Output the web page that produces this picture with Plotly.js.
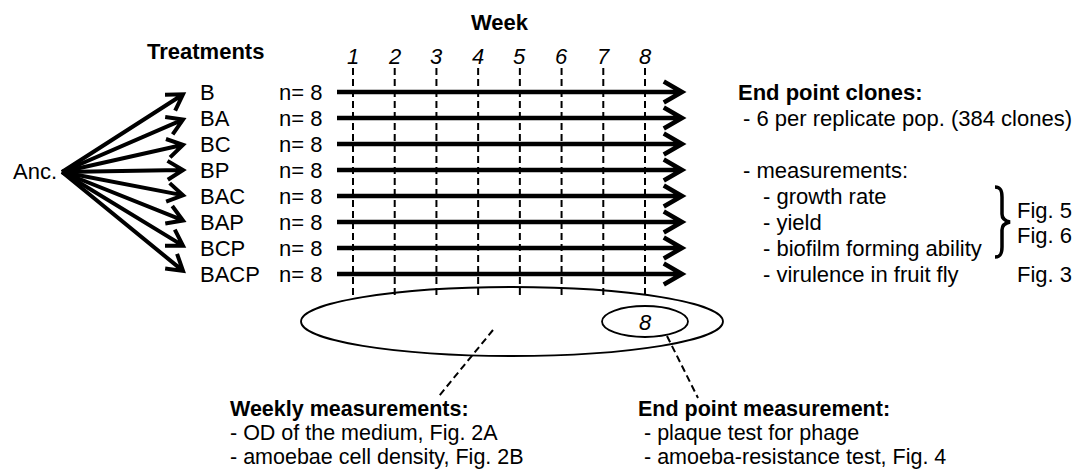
<!DOCTYPE html>
<html><head><meta charset="utf-8">
<script src="https://cdn.plot.ly/plotly-3.0.1.min.js"></script>
<style>html,body{margin:0;padding:0;background:#fff}#chart{width:1080px;height:475px}</style>
</head><body><div id="chart"></div>
<script>
// ---------- data ----------
const treatments = ['B', 'BA', 'BC', 'BP', 'BAC', 'BAP', 'BCP', 'BACP'];
const replicates = [8, 8, 8, 8, 8, 8, 8, 8];
const weeks = [1, 2, 3, 4, 5, 6, 7, 8];
const endPointWeek = 8;
const ancestorLabel = 'Anc.';
const treatmentsTitle = 'Treatments';
const weekTitle = 'Week';
const clonesTitle = 'End point clones:';
const clonesLine = '- 6 per replicate pop. (384 clones)';
const measurementsHeader = '- measurements:';
const cloneMeasurements = ['- growth rate', '- yield', '- biofilm forming ability', '- virulence in fruit fly'];
const figRefs = ['Fig. 5', 'Fig. 6', 'Fig. 3'];
const weeklyTitle = 'Weekly measurements:';
const weeklyItems = ['- OD of the medium, Fig. 2A', '- amoebae cell density, Fig. 2B'];
const endTitle = 'End point measurement:';
const endItems = ['- plaque test for phage', '- amoeba-resistance test, Fig. 4'];

// ---------- layout helpers ----------
const FONT = 'Liberation Sans, Arial, Helvetica, sans-serif';
const FS = 22;
const FS_BOTTOM = 21.5;
const ROW0 = 92, ROWSTEP = 26;
const rowY = i => ROW0 + ROWSTEP * i;
const ORIGIN = [62, 172];
const W1PX = 353, W8PX = 645;
const pxPerWeek = (W8PX - W1PX) / (weeks[weeks.length - 1] - weeks[0]);
const x2range = [weeks[0] - W1PX / pxPerWeek, weeks[0] + (1080 - W1PX) / pxPerWeek];

function chevron(tx, ty, ang, len, spread) {
  const pts = [ang + spread, ang - spread].map(a => [tx - len * Math.cos(a), ty - len * Math.sin(a)]);
  return `M ${pts[0][0]},${pts[0][1]} L ${tx},${ty} L ${pts[1][0]},${pts[1][1]}`;
}

const shapes = [];
const annotations = [];
function txt(x, y, text, opts = {}) {
  annotations.push(Object.assign({
    x, y, xref: 'x', yref: 'y', text, showarrow: false,
    xanchor: 'left', yanchor: 'middle', borderpad: 0,
    font: { family: FONT, size: FS, color: '#000' }
  }, opts));
}

// fan arrows from ancestor to each treatment
treatments.forEach((t, i) => {
  const ty = 171 + (rowY(i) - 171) * 0.97;
  const tx = 183;
  const ang = Math.atan2(ty - ORIGIN[1], tx - ORIGIN[0]);
  shapes.push({ type: 'path', xref: 'x', yref: 'y',
    path: `M ${ORIGIN[0]},${ORIGIN[1]} L ${tx - 2 * Math.cos(ang)},${ty - 2 * Math.sin(ang)} ` + chevron(tx, ty, ang, 18, 0.55),
    line: { color: '#000', width: 4 } });
  txt(199, rowY(i), t);
  txt(278, rowY(i), 'n= ' + replicates[i]);
  // horizontal time-line arrow
  shapes.push({ type: 'path', xref: 'x', yref: 'y',
    path: `M 337,${rowY(i)} L 680,${rowY(i)} ` + chevron(682, rowY(i), 0, 21, 0.52),
    line: { color: '#000', width: 4.5 } });
});

// weekly dashed lines
weeks.forEach(w => {
  shapes.push({ type: 'line', xref: 'x2', yref: 'y', x0: w, x1: w, y0: 68, y1: 295,
    line: { color: '#000', width: 2, dash: '7px,4px' } });
  annotations.push({ x: w, y: 56, xref: 'x2', yref: 'y', text: '<i>' + w + '</i>', showarrow: false,
    xanchor: 'center', yanchor: 'middle', borderpad: 0, font: { family: FONT, size: FS, color: '#000' } });
});

// ellipses
shapes.push({ type: 'circle', xref: 'x', yref: 'y', x0: 301, x1: 723, y0: 287, y1: 356,
  line: { color: '#000', width: 1.8 } });
shapes.push({ type: 'circle', xref: 'x2', yref: 'y', xsizemode: 'pixel', xanchor: endPointWeek,
  x0: -43, x1: 43, y0: 306, y1: 337, line: { color: '#000', width: 1.8 } });
annotations.push({ x: endPointWeek, y: 322, xref: 'x2', yref: 'y', text: '<i>' + endPointWeek + '</i>',
  showarrow: false, xanchor: 'center', yanchor: 'middle', borderpad: 0, font: { family: FONT, size: FS, color: '#000' } });

// connector dashed lines
shapes.push({ type: 'line', xref: 'x', yref: 'y', x0: 493, y0: 330, x1: 439, y1: 396,
  line: { color: '#000', width: 2, dash: '7px,4px' } });
shapes.push({ type: 'line', xref: 'x', yref: 'y', x0: 667, y0: 336, x1: 698, y1: 398,
  line: { color: '#000', width: 2, dash: '7px,4px' } });

// brace
shapes.push({ type: 'path', xref: 'x', yref: 'y',
  path: 'M 995,187 C 1001,187 1002,191 1002,197 L 1002,214 C 1002,219 1005,221 1010,222 C 1005,223 1002,225 1002,230 L 1002,247 C 1002,253 1001,257 995,257',
  line: { color: '#000', width: 3.5 } });

// titles and texts
txt(12, 171, ancestorLabel);
txt(205, 51, '<b>' + treatmentsTitle + '</b>', { xanchor: 'center' });
txt(500, 22, '<b>' + weekTitle + '</b>', { xanchor: 'center' });

txt(737, rowY(0), '<b>' + clonesTitle + '</b>');
txt(742, rowY(1), clonesLine);
txt(742, rowY(3), measurementsHeader);
cloneMeasurements.forEach((m, k) => txt(762, rowY(4 + k), m));
txt(1016, 210, figRefs[0]);
txt(1016, 235, figRefs[1]);
txt(1016, rowY(7), figRefs[2]);

const bottomFont = { family: FONT, size: FS_BOTTOM, color: '#000' };
txt(229, 409, '<b>' + weeklyTitle + '</b>', { font: bottomFont });
weeklyItems.forEach((m, k) => txt(229, 433 + 24 * k, m, { font: bottomFont }));
txt(637, 409, '<b>' + endTitle + '</b>', { font: bottomFont });
endItems.forEach((m, k) => txt(643, 433 + 24 * k, m, { font: bottomFont }));

const layout = {
  width: 1080, height: 475,
  margin: { l: 0, r: 0, t: 0, b: 0, pad: 0 },
  paper_bgcolor: '#fff', plot_bgcolor: '#fff',
  showlegend: false,
  xaxis: { range: [0, 1080], visible: false, fixedrange: true },
  xaxis2: { range: x2range, visible: false, overlaying: 'x', fixedrange: true },
  yaxis: { range: [475, 0], visible: false, fixedrange: true },
  shapes, annotations
};
Plotly.newPlot('chart', [{ x: [], y: [], type: 'scatter', hoverinfo: 'skip' },
  { x: [], y: [], xaxis: 'x2', type: 'scatter', hoverinfo: 'skip' }], layout,
  { staticPlot: true, displayModeBar: false });
</script></body></html>
